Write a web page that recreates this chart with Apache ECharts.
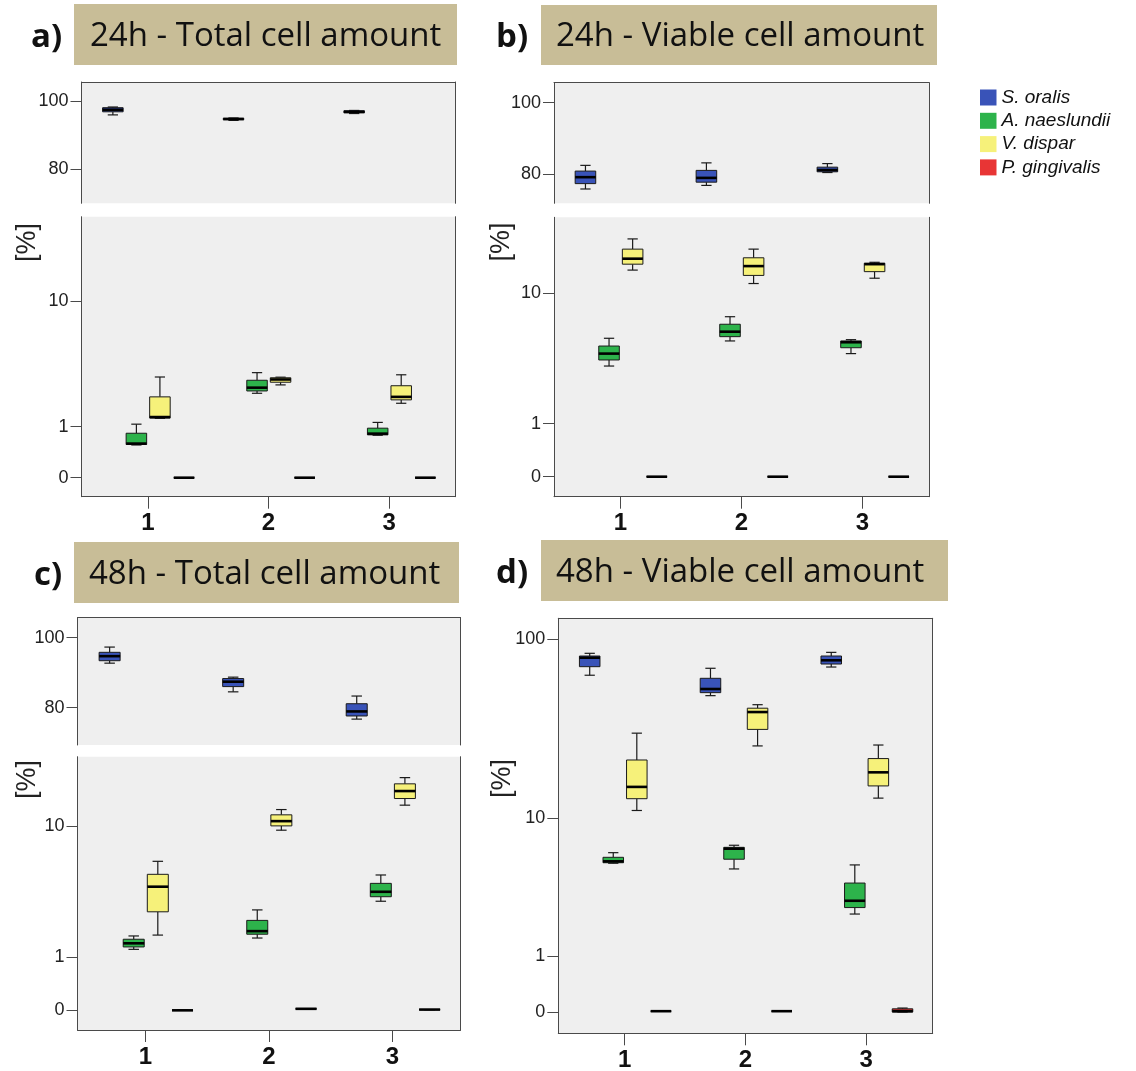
<!DOCTYPE html>
<html>
<head>
<meta charset="utf-8">
<script src="https://cdn.jsdelivr.net/npm/echarts@6/dist/echarts.min.js"></script>
<style>
html,body{margin:0;padding:0;background:#fff;}
#chart{width:1136px;height:1071px;}
</style>
</head>
<body>
<div id="chart"></div>
<script>
// ---------- data ----------
const categories = [1, 2, 3];
const speciesNames = ['S. oralis', 'A. naeslundii', 'V. dispar', 'P. gingivalis'];
const speciesColors = ['#3953b8', '#2db34b', '#f6f17a', '#e83535'];

// each row: [min, Q1, median, Q3, max] for categories 1, 2, 3
// a) 24h - Total cell amount
const a_oralis      = [[95.9, 96.8, 97.4, 98.0, 98.2], [94.3, 94.5, 94.7, 94.9, 95.0], [96.3, 96.5, 96.8, 97.1, 97.2]];
const a_naeslundii  = [[0.56, 0.57, 0.59, 0.83, 1.07], [2.15, 2.25, 2.40, 2.76, 3.17], [0.78, 0.79, 0.82, 0.96, 1.12]];
const a_dispar      = [[1.24, 1.25, 1.28, 2.00, 2.93], [2.53, 2.66, 2.80, 2.89, 2.92], [1.75, 1.88, 2.00, 2.49, 3.05]];
const a_gingivalis  = [[0, 0, 0, 0, 0], [0, 0, 0, 0, 0], [0, 0, 0, 0, 0]];
// b) 24h - Viable cell amount
const b_oralis      = [[75.9, 77.4, 79.2, 80.9, 82.5], [76.9, 77.8, 79.0, 81.1, 83.2], [80.5, 80.7, 81.2, 82.0, 83.0]];
const b_naeslundii  = [[3.25, 3.60, 4.00, 4.52, 5.11], [4.90, 5.24, 5.66, 6.34, 7.10], [4.00, 4.40, 4.80, 4.90, 5.00]];
const b_dispar      = [[13.9, 15.1, 16.3, 18.6, 21.4], [11.5, 12.9, 14.7, 16.5, 18.6], [12.4, 13.6, 15.1, 15.3, 15.5]];
const b_gingivalis  = [[0, 0, 0, 0, 0], [0, 0, 0, 0, 0], [0, 0, 0, 0, 0]];
// c) 48h - Total cell amount
const c_oralis      = [[92.7, 93.4, 94.7, 95.8, 97.3], [84.5, 86.0, 87.4, 88.3, 88.7], [76.7, 77.6, 78.9, 81.1, 83.3]];
const c_naeslundii  = [[1.21, 1.28, 1.39, 1.52, 1.63], [1.56, 1.69, 1.80, 2.22, 2.69], [3.13, 3.38, 3.67, 4.21, 4.81]];
const c_dispar      = [[1.66, 2.60, 3.99, 4.86, 5.94], [9.4, 10.0, 10.7, 11.7, 12.6], [13.4, 14.7, 16.3, 18.0, 19.6]];
const c_gingivalis  = [[0, 0, 0, 0, 0], [0.02, 0.02, 0.02, 0.02, 0.02], [0.01, 0.01, 0.01, 0.01, 0.01]];
// d) 48h - Viable cell amount
const d_oralis      = [[63.5, 70.7, 79.1, 80.8, 83.6], [49.1, 51.0, 53.4, 61.1, 69.3], [70.4, 73.1, 76.6, 80.8, 84.6]];
const d_naeslundii  = [[5.30, 5.34, 5.45, 5.78, 6.18], [4.87, 5.62, 6.54, 6.67, 6.87], [2.36, 2.64, 2.96, 3.93, 5.17]];
const d_dispar      = [[11.1, 13.0, 15.2, 21.6, 30.5], [25.9, 32.0, 39.9, 41.9, 43.8], [13.1, 15.4, 18.4, 22.0, 26.2]];
const d_gingivalis  = [[0.01, 0.01, 0.01, 0.01, 0.01], [0.01, 0.01, 0.01, 0.01, 0.01], [0, 0, 0.01, 0.04, 0.05]];

// tick labels
const xTicks = [1, 2, 3];
const upperTicks = [80, 100];
const lowerTicks = [0, 1, 10];
const dTicks = [0, 1, 10, 100];

const panelTitles = ['24h - Total cell amount', '24h - Viable cell amount', '48h - Total cell amount', '48h - Viable cell amount'];
const panelLetters = ['a)', 'b)', 'c)', 'd)'];

// ---------- helpers ----------
const FRAME = '#4a4a4a';
const OFFSETS = [-0.29, -0.095, 0.10, 0.30];   // box offset inside a category (category units)
const BOX_W = 0.17;
const logT = v => Math.log10(v + 1);
const idT = v => v;

const grids = [], xAxes = [], yAxes = [], series = [];

// kind: 'upper' (frame open at bottom), 'lower' (open at top), 'full' (closed)
function addGrid(g, yMin, yMax, kind, ticks, tf) {
  const gi = grids.length;
  grids.push({left: g.left, top: g.top, width: g.width, height: g.height, show: true,
    backgroundColor: '#efefef', borderWidth: 0, containLabel: false, outerBoundsMode: 'none'});
  const isUpper = kind === 'upper';
  const xi = xAxes.length;
  xAxes.push({
    gridIndex: gi, type: 'value', min: 0.45, max: 3.55,
    position: isUpper ? 'top' : 'bottom',
    axisLine: {show: true, onZero: false, lineStyle: {color: FRAME, width: 1}},
    axisTick: isUpper ? {show: false} : {show: true, customValues: xTicks, length: 12, lineStyle: {color: FRAME, width: 1}},
    axisLabel: isUpper ? {show: false} : {show: true, customValues: xTicks, margin: 15,
      fontFamily: 'Liberation Sans', fontWeight: 'bold', fontSize: 24, color: '#111'},
    splitLine: {show: false}
  });
  if (kind === 'full') {
    xAxes.push({
      gridIndex: gi, type: 'value', min: 0.45, max: 3.55, position: 'top',
      axisLine: {show: true, onZero: false, lineStyle: {color: FRAME, width: 1}},
      axisTick: {show: false}, axisLabel: {show: false}, splitLine: {show: false}
    });
  }
  const yi = yAxes.length;
  yAxes.push({
    gridIndex: gi, type: 'value', min: yMin, max: yMax, position: 'left',
    axisLine: {show: true, onZero: false, lineStyle: {color: FRAME, width: 1}},
    axisTick: {show: true, customValues: ticks.map(tf), length: 11, lineStyle: {color: FRAME, width: 1}},
    axisLabel: {show: true, customValues: ticks.map(tf), margin: 13,
      fontFamily: 'Liberation Sans', fontSize: 18, color: '#222',
      formatter: v => String(Math.round(tf === logT ? Math.pow(10, v) - 1 : v))},
    splitLine: {show: false}
  });
  yAxes.push({
    gridIndex: gi, type: 'value', min: yMin, max: yMax, position: 'right',
    axisLine: {show: true, onZero: false, lineStyle: {color: FRAME, width: 1}},
    axisTick: {show: false}, axisLabel: {show: false}, splitLine: {show: false}
  });
  return {xi: xi, yi: yi};
}

function addBoxes(ax, k, rows, tf) {
  const color = speciesColors[k];
  series.push({
    type: 'custom', name: speciesNames[k],
    xAxisIndex: ax.xi, yAxisIndex: ax.yi,
    itemStyle: {color: color},
    encode: {x: 0, y: [1, 2, 3, 4, 5]},
    data: rows.map((r, i) => [categories[i]].concat(r.map(tf))),
    renderItem: function (params, api) {
      const xv = api.value(0) + OFFSETS[k];
      const p = [1, 2, 3, 4, 5].map(d => api.coord([xv, api.value(d)]));
      const cx = p[0][0];
      const bw = api.size([BOX_W, 0])[0];
      const cap = bw * 0.5;
      const ls = {stroke: '#1a1a1a', lineWidth: 1.2};
      return {type: 'group', children: [
        {type: 'line', shape: {x1: cx, y1: p[3][1], x2: cx, y2: p[4][1]}, style: ls},
        {type: 'line', shape: {x1: cx - cap / 2, y1: p[4][1], x2: cx + cap / 2, y2: p[4][1]}, style: ls},
        {type: 'line', shape: {x1: cx, y1: p[1][1], x2: cx, y2: p[0][1]}, style: ls},
        {type: 'line', shape: {x1: cx - cap / 2, y1: p[0][1], x2: cx + cap / 2, y2: p[0][1]}, style: ls},
        {type: 'rect', shape: {x: cx - bw / 2, y: p[3][1], width: bw, height: p[1][1] - p[3][1]},
          style: {fill: color, stroke: '#1a1a1a', lineWidth: 1}},
        {type: 'line', shape: {x1: cx - bw / 2, y1: p[2][1], x2: cx + bw / 2, y2: p[2][1]},
          style: {stroke: '#000', lineWidth: 2.6}}
      ]};
    }
  });
}

// panel layouts (frame boxes in px)
// a
let g = addGrid({left: 81.5, top: 82, width: 374, height: 121.3}, 70.1, 105.5, 'upper', upperTicks, idT);
addBoxes(g, 0, a_oralis, idT);
g = addGrid({left: 81.5, top: 216.7, width: 374, height: 280}, -0.1122, 1.5407, 'lower', lowerTicks, logT);
addBoxes(g, 1, a_naeslundii, logT); addBoxes(g, 2, a_dispar, logT); addBoxes(g, 3, a_gingivalis, logT);
// b
g = addGrid({left: 554, top: 82.7, width: 375, height: 120.6}, 71.9, 105.6, 'upper', upperTicks, idT);
addBoxes(g, 0, b_oralis, idT);
g = addGrid({left: 554, top: 217.3, width: 375, height: 279.4}, -0.1136, 1.473, 'lower', lowerTicks, logT);
addBoxes(g, 1, b_naeslundii, logT); addBoxes(g, 2, b_dispar, logT); addBoxes(g, 3, b_gingivalis, logT);
// c
g = addGrid({left: 77.5, top: 617.7, width: 383, height: 127.3}, 69.3, 105.7, 'upper', upperTicks, idT);
addBoxes(g, 0, c_oralis, idT);
g = addGrid({left: 77.5, top: 756.7, width: 383, height: 273.3}, -0.111, 1.432, 'lower', lowerTicks, logT);
addBoxes(g, 1, c_naeslundii, logT); addBoxes(g, 2, c_dispar, logT); addBoxes(g, 3, c_gingivalis, logT);
// d
g = addGrid({left: 558.3, top: 618.3, width: 374.4, height: 415}, -0.1145, 2.1155, 'full', dTicks, logT);
addBoxes(g, 0, d_oralis, logT); addBoxes(g, 1, d_naeslundii, logT); addBoxes(g, 2, d_dispar, logT); addBoxes(g, 3, d_gingivalis, logT);

// ---------- decorations (titles, [%]) ----------
const titleBoxes = [
  {x: 74, y: 4, w: 383, h: 61, tx: 90, lx: 31},
  {x: 541, y: 5, w: 396, h: 60, tx: 556, lx: 496},
  {x: 74, y: 542, w: 385, h: 61, tx: 89, lx: 34},
  {x: 541, y: 540, w: 407, h: 61, tx: 556, lx: 496}
];
const pctLabels = [[27.5, 242.5], [502, 242], [28, 779.5], [502.5, 778.5]];
const graphic = [];
titleBoxes.forEach((b, i) => {
  graphic.push({type: 'rect', shape: {x: b.x, y: b.y, width: b.w, height: b.h}, style: {fill: '#c8bd97'}, silent: true});
  graphic.push({type: 'text', x: b.tx, y: b.y + b.h / 2 + 2,
    style: {text: panelTitles[i], fontFamily: 'Open Sans', fontSize: 33, fill: '#111', verticalAlign: 'middle', align: 'left'}});
  graphic.push({type: 'text', x: b.lx, y: b.y + b.h / 2 + 3,
    style: {text: panelLetters[i], fontFamily: 'Open Sans', fontWeight: 'bold', fontSize: 33, fill: '#111', verticalAlign: 'middle', align: 'left'}});
});
pctLabels.forEach(p => {
  graphic.push({type: 'text', x: p[0], y: p[1], rotation: Math.PI / 2,
    style: {text: '[%]', fontFamily: 'Liberation Sans', fontSize: 27, fill: '#222', align: 'center', verticalAlign: 'middle'}});
});

const chart = echarts.init(document.getElementById('chart'), null, {renderer: 'canvas'});
chart.setOption({
  animation: false,
  backgroundColor: '#ffffff',
  grid: grids, xAxis: xAxes, yAxis: yAxes,
  legend: {
    data: speciesNames, orient: 'vertical', left: 980, top: 88, padding: 0,
    itemWidth: 16.5, itemHeight: 16, itemGap: 4.3, icon: 'rect', selectedMode: false,
    textStyle: {fontFamily: 'Liberation Sans', fontStyle: 'italic', fontSize: 19, color: '#111'}
  },
  graphic: graphic,
  series: series
});
</script>
</body>
</html>
